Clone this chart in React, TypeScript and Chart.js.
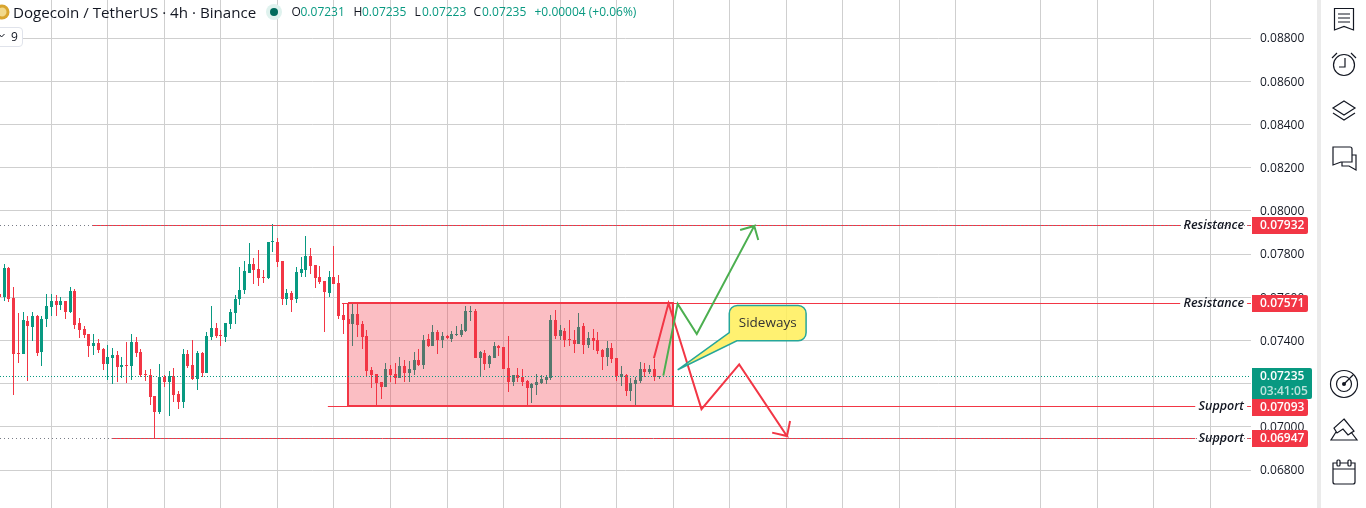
import React, { useEffect, useRef } from "react";
import { Chart, registerables } from "chart.js";

Chart.register(...registerables);

const firstIndex = -1;
const opens = [0.07615,0.07602,0.07735,0.07596,0.07342,0.07337,0.0749,0.07462,0.07513,0.07346,0.07499,0.07555,0.07582,0.07564,0.07582,0.07532,0.07629,0.0748,0.07453,0.0743,0.07374,0.07388,0.0736,0.07291,0.07319,0.07332,0.07277,0.07286,0.07282,0.07393,0.07346,0.07244,0.0724,0.07143,0.07069,0.07231,0.07207,0.07235,0.07152,0.07115,0.07337,0.07286,0.07221,0.07342,0.07249,0.07416,0.07457,0.07425,0.07416,0.07476,0.07527,0.07592,0.07633,0.07712,0.07754,0.07731,0.07694,0.07689,0.07856,0.07856,0.07768,0.07592,0.07619,0.07592,0.07712,0.07726,0.07791,0.07749,0.07694,0.07675,0.07619,0.07694,0.07666,0.07518,0.07499,0.07476,0.07522,0.07476,0.0742,0.07263,0.07244,0.07207,0.07184,0.07268,0.07244,0.07226,0.07282,0.07249,0.07263,0.07309,0.07286,0.07407,0.07374,0.07439,0.07402,0.0742,0.07407,0.07425,0.07425,0.07444,0.07531,0.07536,0.07319,0.07342,0.07291,0.07319,0.07374,0.07369,0.07272,0.07207,0.0724,0.07231,0.07212,0.0718,0.07194,0.07203,0.07217,0.07226,0.07494,0.0742,0.07444,0.07407,0.07402,0.07383,0.07467,0.07379,0.07411,0.07402,0.07356,0.07323,0.07365,0.07319,0.07231,0.0724,0.07166,0.07198,0.07212,0.07268,0.07254,0.07268,0.07231];
const highs = [0.07615,0.07754,0.0774,0.07647,0.07527,0.07532,0.07513,0.07532,0.07518,0.07513,0.07615,0.07615,0.0761,0.07601,0.07582,0.07647,0.07638,0.07504,0.07467,0.0743,0.0743,0.07407,0.07365,0.07379,0.07365,0.07351,0.07323,0.07393,0.0743,0.07416,0.0736,0.07263,0.07268,0.07143,0.07291,0.0724,0.07258,0.07272,0.07166,0.0736,0.07356,0.07402,0.07351,0.07346,0.07439,0.07559,0.07481,0.07448,0.07481,0.07545,0.0761,0.0774,0.07768,0.07851,0.07782,0.07819,0.07726,0.07856,0.07939,0.07874,0.07768,0.07638,0.07629,0.0774,0.07786,0.07883,0.07828,0.07749,0.07744,0.07675,0.07721,0.07837,0.07703,0.07573,0.07573,0.07572,0.07572,0.0749,0.07448,0.07277,0.07244,0.07207,0.07295,0.07286,0.07295,0.07323,0.07309,0.07305,0.07346,0.0736,0.07425,0.0743,0.07471,0.07448,0.07439,0.07425,0.07444,0.07467,0.07476,0.07559,0.07559,0.07545,0.07351,0.07356,0.07332,0.07393,0.07379,0.07369,0.0742,0.0724,0.07272,0.07268,0.07217,0.07203,0.07244,0.0724,0.0724,0.07518,0.07541,0.07471,0.07457,0.07494,0.07448,0.07527,0.07481,0.07439,0.07453,0.07439,0.0736,0.07397,0.07388,0.07319,0.07282,0.07244,0.07226,0.07231,0.073,0.07295,0.07286,0.07314,0.07235];
const lows = [0.07599,0.07584,0.07578,0.07147,0.07295,0.07337,0.07212,0.07397,0.07328,0.07282,0.07462,0.07513,0.07513,0.07541,0.07499,0.07527,0.07453,0.07411,0.07411,0.07323,0.07332,0.07342,0.07263,0.07217,0.07198,0.07207,0.07226,0.07203,0.07217,0.07323,0.07231,0.07212,0.07101,0.06948,0.07059,0.07184,0.0705,0.07115,0.07082,0.07087,0.07272,0.07217,0.0717,0.07231,0.07249,0.07402,0.07411,0.07374,0.07393,0.07453,0.07476,0.07564,0.07615,0.07712,0.07661,0.07652,0.07666,0.07684,0.07809,0.0774,0.07564,0.07564,0.07532,0.07573,0.07694,0.07694,0.07707,0.07643,0.07661,0.07439,0.07601,0.07661,0.07499,0.0743,0.0746,0.07374,0.07416,0.0736,0.07235,0.0718,0.07096,0.07129,0.07184,0.07207,0.07198,0.07226,0.07207,0.07207,0.0724,0.07282,0.07268,0.07369,0.07374,0.07337,0.07365,0.07407,0.07393,0.0742,0.07416,0.07439,0.0749,0.07319,0.07235,0.07263,0.07272,0.07319,0.07328,0.07268,0.07161,0.07189,0.07207,0.07189,0.07096,0.0711,0.07147,0.07198,0.07198,0.07217,0.07407,0.07402,0.07369,0.07374,0.07342,0.07383,0.07337,0.07365,0.07356,0.07337,0.07263,0.07282,0.07295,0.07212,0.07189,0.07143,0.07119,0.07101,0.07203,0.07231,0.07244,0.07212,0.07223];
const closes = [0.076,0.07735,0.07593,0.07337,0.07337,0.07494,0.07467,0.07513,0.0734,0.07499,0.07559,0.07582,0.07564,0.07582,0.07532,0.07629,0.07471,0.07448,0.07425,0.07374,0.07388,0.07356,0.07291,0.07323,0.07332,0.07277,0.07286,0.07282,0.07393,0.07342,0.0724,0.0724,0.07138,0.07069,0.07231,0.07207,0.07235,0.07147,0.07115,0.07337,0.07282,0.07221,0.07342,0.07249,0.0742,0.07457,0.0742,0.0742,0.07481,0.07532,0.07592,0.07633,0.07721,0.07754,0.07726,0.07689,0.07689,0.07856,0.0786,0.07763,0.07592,0.07619,0.07587,0.07717,0.07731,0.07791,0.07744,0.07689,0.0767,0.07624,0.07694,0.07661,0.07513,0.07494,0.07476,0.07522,0.07471,0.07416,0.07258,0.0724,0.07203,0.07184,0.07268,0.0724,0.07226,0.07282,0.07249,0.07268,0.07309,0.07286,0.07402,0.07374,0.07439,0.07402,0.0742,0.07411,0.0743,0.0743,0.07448,0.07536,0.07536,0.07319,0.07346,0.07291,0.07328,0.07374,0.07365,0.07268,0.07207,0.0724,0.07226,0.07207,0.0718,0.07198,0.07207,0.07221,0.07231,0.07494,0.0742,0.07448,0.07402,0.07402,0.07383,0.07462,0.07379,0.07411,0.07397,0.07351,0.07323,0.07365,0.07314,0.07235,0.07244,0.07166,0.07203,0.07217,0.07268,0.07254,0.07268,0.07231,0.07235];

const yTicks = [0.088,0.086,0.084,0.082,0.08,0.078,0.076,0.074,0.072,0.07,0.068];
const xGridIndices = [10,22,34,46,58,70,82,94,106,118,130,142,154,166,178,190,202,220,232,244,256];

const resistanceHigh = 0.07932;
const resistanceLow = 0.07571;
const supportHigh = 0.07093;
const supportLow = 0.06947;
const lastPrice = 0.07235;
const countdown = "03:41:05";

const boxLeft = 73;
const boxRight = 142;

const greenPathX = [139.9,142.95,147,159.2,156.2,159.2,160.05];
const greenPathY = [0.07237,0.07569,0.0743,0.0793,0.07911,0.0793,0.07865];
const redPathX = [137.9,141,148,156,166.15,163,166.15,166.8];
const redPathY = [0.07317,0.07572,0.07082,0.07289,0.06957,0.06973,0.06957,0.07027];

const calloutTipX = 142.95;
const calloutTipY = 0.07264;
const calloutLeftX = 153.9;
const calloutRightX = 170.2;
const calloutTopY = 0.07562;
const calloutBottomY = 0.07398;
const calloutBaseLeftY = 0.07436;
const calloutBaseRightX = 155.5;

const RED = "#f23645";
const GREEN = "#089981";
const LINE_GREEN = "#4caf50";
const GRID = "#cfcfcf";
const TEXT = "#131722";
const UI_FONT = "'Open Sans', sans-serif";

const pts = (xs: number[], ys: (number | null)[]) => xs.map((x, i) => ({ x, y: ys[i] }));
const lineDs = (data: any[], color: string, width: number, extra: any = {}) => ({
  type: "line",
  data,
  borderColor: color,
  borderWidth: width,
  pointRadius: 0,
  tension: 0,
  fill: false,
  order: 1,
  ...extra,
});

const snapMarks = {
  id: "snapMarks",
  afterDatasetsUpdate(chart: any) {
    chart.data.datasets.forEach((ds: any, i: number) => {
      const els = chart.getDatasetMeta(i).data;
      if (ds.type === "bar") {
        els.forEach((el: any) => {
          const half = ds.barThickness / 2;
          el.x = Math.round(el.x - half) + half;
          const top = Math.round(Math.min(el.y, el.base));
          let bottom = Math.round(Math.max(el.y, el.base));
          if (bottom <= top) bottom = top + 1;
          el.y = top;
          el.base = bottom;
        });
      } else if (ds.snapRow) {
        els.forEach((el: any) => { el.y = Math.floor(el.y + 0.25) + 0.5; });
      } else if (ds.snapBox) {
        els.forEach((el: any) => { el.y = Math.floor(el.y + 0.25); el.x = Math.round(el.x); });
      }
    });
  },
};

const overlays = {
  id: "overlays",
  afterDraw(chart: any) {
    const { ctx, scales } = chart;
    const y = scales.y;
    const x = scales.x;

    ctx.save();
    const l = x.getPixelForValue(calloutLeftX);
    const r = x.getPixelForValue(calloutRightX);
    const t = y.getPixelForValue(calloutTopY);
    const b = y.getPixelForValue(calloutBottomY);
    const rad = 8;
    ctx.beginPath();
    ctx.moveTo(l + rad, t);
    ctx.lineTo(r - rad, t);
    ctx.arcTo(r, t, r, t + rad, rad);
    ctx.lineTo(r, b - rad);
    ctx.arcTo(r, b, r - rad, b, rad);
    ctx.lineTo(x.getPixelForValue(calloutBaseRightX), b);
    ctx.lineTo(x.getPixelForValue(calloutTipX), y.getPixelForValue(calloutTipY));
    ctx.lineTo(l, y.getPixelForValue(calloutBaseLeftY));
    ctx.lineTo(l, t + rad);
    ctx.arcTo(l, t, l + rad, t, rad);
    ctx.closePath();
    ctx.fillStyle = "rgba(255,238,88,0.85)";
    ctx.fill();
    ctx.strokeStyle = "#26a69a";
    ctx.lineWidth = 1.5;
    ctx.stroke();
    ctx.fillStyle = "#333333";
    ctx.font = `13.5px ${UI_FONT}`;
    ctx.textAlign = "center";
    ctx.textBaseline = "middle";
    ctx.fillText("Sideways", (l + r) / 2, (t + b) / 2 + 0.5);

    ctx.fillStyle = TEXT;
    ctx.font = `italic 600 12.5px ${UI_FONT}`;
    ctx.textAlign = "right";
    const labelRight = 1244;
    [["Resistance", resistanceHigh], ["Resistance", resistanceLow], ["Support", supportHigh], ["Support", supportLow]].forEach(([s, v]: any) => {
      ctx.fillText(s, labelRight, y.getPixelForValue(v));
    });

    const tagLeft = 1252;
    const drawTag = (v: number, w: number, h: number, color: string) => {
      const cy = Math.round(y.getPixelForValue(v));
      ctx.fillStyle = color;
      ctx.beginPath();
      ctx.roundRect(tagLeft, cy - 8, w, h, [0, 2, 2, 0]);
      ctx.fill();
      return cy;
    };
    ctx.textAlign = "left";
    ctx.font = `600 12px ${UI_FONT}`;
    [resistanceHigh, resistanceLow, supportLow].forEach((v) => {
      const cy = drawTag(v, 56, 17, RED);
      ctx.fillStyle = "#ffffff";
      ctx.fillText(v.toFixed(5), 1260, cy + 0.5);
    });
    const lastY = drawTag(lastPrice, 60, 31, GREEN);
    ctx.fillStyle = "#ffffff";
    ctx.fillText(lastPrice.toFixed(5), 1260, lastY + 0.5);
    ctx.fillStyle = "rgba(255,255,255,0.72)";
    ctx.fillText(countdown, 1260, lastY + 15.5);
    const supY = drawTag(supportHigh, 56, 17, RED);
    ctx.fillStyle = "#ffffff";
    ctx.fillText(supportHigh.toFixed(5), 1260, supY + 0.5);
    ctx.restore();
  },
};

const spanStyle = (left: number, color: string, extra: any = {}): any => ({
  position: "absolute",
  left,
  top: 3,
  lineHeight: "18px",
  whiteSpace: "nowrap",
  color,
  ...extra,
});

export default function App() {
  const ref = useRef<HTMLCanvasElement>(null);

  useEffect(() => {
    document.body.style.margin = "0";
    document.body.style.background = "#ffffff";
    const ctx = ref.current!.getContext("2d")!;
    const bodyColor = closes.map((c, i) => (c >= opens[i] ? GREEN : RED));
    const wicks = highs.map((h, i) => ({ x: firstIndex + i, y: [lows[i], h] }));
    const bodies = opens.map((o, i) => ({ x: firstIndex + i, y: [o, closes[i]] }));
    const chartMaxIdx = 264.63;
    const chartMinIdx = -0.887;
    const xEnd = chartMaxIdx;
    const row = { snapRow: true };

    const chart = new Chart(ctx, {
      type: "bar",
      data: {
        datasets: [
          { type: "bar", data: wicks, backgroundColor: bodyColor, barThickness: 1, grouped: false, inflateAmount: 0, borderWidth: 0, order: 11 },
          { type: "bar", data: bodies, backgroundColor: bodyColor, barThickness: 3, grouped: false, inflateAmount: 0, borderWidth: 0, order: 10 },
          lineDs(pts([boxLeft, boxRight, boxRight, boxLeft, boxLeft], [resistanceLow, resistanceLow, supportHigh, supportHigh, resistanceLow]), RED, 2, { fill: "shape", backgroundColor: "rgba(242,54,69,0.32)", order: 9, snapBox: true }),
          lineDs(pts([chartMinIdx, xEnd], [lastPrice, lastPrice]), GREEN, 1, { borderDash: [1, 2], order: 8, ...row }),
          lineDs(pts([18.8, 249.6, 249.7, 263.8, xEnd], [resistanceHigh, resistanceHigh, null, resistanceHigh, resistanceHigh]), RED, 1, { order: 7, ...row }),
          lineDs(pts([71.7, 249.6, 249.7, 263.8, xEnd], [resistanceLow, resistanceLow, null, resistanceLow, resistanceLow]), RED, 1, { order: 7, ...row }),
          lineDs(pts([68.7, 252.8, 252.9, 263.8, xEnd], [supportHigh, supportHigh, null, supportHigh, supportHigh]), RED, 1, { order: 7, ...row }),
          lineDs(pts([22.8, 252.8, 252.9, 263.8, xEnd], [supportLow, supportLow, null, supportLow, supportLow]), RED, 1, { order: 7, ...row }),
          lineDs(pts([chartMinIdx, xEnd], [resistanceHigh, resistanceHigh]), "#787b86", 1, { borderDash: [1, 3], order: 6, ...row }),
          lineDs(pts([chartMinIdx, xEnd], [supportLow, supportLow]), "#787b86", 1, { borderDash: [1, 3], order: 6, ...row }),
          lineDs(pts(greenPathX, greenPathY), LINE_GREEN, 2, { order: 5 }),
          lineDs(pts(redPathX, redPathY), RED, 2, { order: 5 }),
        ] as any,
      },
      options: {
        responsive: false,
        animation: false,
        events: [],
        layout: { padding: 0 },
        plugins: { legend: { display: false }, tooltip: { enabled: false }, title: { display: false } },
        scales: {
          x: {
            type: "linear",
            min: chartMinIdx,
            max: chartMaxIdx,
            offset: false,
            position: "bottom",
            border: { display: false },
            grid: { color: GRID, drawTicks: false, lineWidth: 1, offset: false },
            ticks: { display: false, autoSkip: false },
            afterBuildTicks: (s: any) => { s.ticks = xGridIndices.map((value) => ({ value })); },
            afterFit: (s: any) => { s.height = 0; s.paddingLeft = 0; s.paddingRight = 0; s.paddingTop = 0; s.paddingBottom = 0; },
          },
          y: {
            type: "linear",
            position: "right",
            min: 0.066241,
            max: 0.0897593,
            border: { display: false },
            grid: { color: GRID, drawTicks: false, lineWidth: 1 },
            ticks: {
              color: TEXT,
              padding: 9,
              labelOffset: 1,
              autoSkip: false,
              font: { family: "'Open Sans', sans-serif", size: 12 },
              callback: (v: any) => Number(v).toFixed(5),
            },
            afterBuildTicks: (s: any) => { s.ticks = yTicks.map((value) => ({ value })); },
            afterFit: (s: any) => { s.width = 115; s.paddingTop = 0; s.paddingBottom = 0; s.paddingLeft = 0; s.paddingRight = 0; },
          },
        },
      } as any,
      plugins: [snapMarks, overlays],
    });
    return () => chart.destroy();
  }, []);

  const wrap: any = { position: "absolute", left: 0, top: 0, width: 1366, height: 508, overflow: "hidden", background: "#fff" };
  const ic = { fill: "none", stroke: "#131722", strokeWidth: 1.2 };
  return (
    <div style={wrap}>
      <canvas ref={ref} width={1366} height={508} style={{ position: "absolute", left: 0, top: 0, width: 1366, height: 508 }} />
      <div style={{ position: "absolute", left: 0, top: 0, width: 1366, height: 508, pointerEvents: "none", fontFamily: UI_FONT }}>
        <span style={spanStyle(13, TEXT, { fontSize: 15.15 })}>Dogecoin / TetherUS · 4h · Binance</span>
        <span style={spanStyle(291.5, TEXT, { fontSize: 12 })}>O</span>
        <span style={spanStyle(300.5, GREEN, { fontSize: 12 })}>0.07231</span>
        <span style={spanStyle(353.5, TEXT, { fontSize: 12 })}>H</span>
        <span style={spanStyle(362, GREEN, { fontSize: 12 })}>0.07235</span>
        <span style={spanStyle(414.5, TEXT, { fontSize: 12 })}>L</span>
        <span style={spanStyle(422, GREEN, { fontSize: 12 })}>0.07223</span>
        <span style={spanStyle(473.5, TEXT, { fontSize: 12 })}>C</span>
        <span style={spanStyle(482, GREEN, { fontSize: 12 })}>0.07235</span>
        <span style={spanStyle(534.5, GREEN, { fontSize: 12 })}>+0.00004 (+0.06%)</span>
        <div style={{ position: "absolute", left: -6, top: 27, width: 27, height: 18, border: "1px solid #e0e3eb", borderRadius: 4, background: "#fff" }} />
        <span style={{ position: "absolute", left: 11, top: 28, fontSize: 12, lineHeight: "18px", color: TEXT }}>9</span>
        <svg width={1366} height={508} style={{ position: "absolute", left: 0, top: 0 }}>
          <path d="M-1 34 L1.5 37 L4.5 34" fill="none" stroke={TEXT} strokeWidth={1} />
          <circle cx={2} cy={12} r={7.5} fill="#d9a52e" />
          <circle cx={2} cy={12} r={4.5} fill="#f2d98b" />
          <circle cx={274} cy={12} r={8} fill="#dff2ee" />
          <circle cx={274} cy={12} r={4} fill="#006b5c" />
          <rect x={1317} y={0} width={4} height={508} fill="#ebebeb" />
          <path d="M1334.5 8.5 H1353.5 V30 L1344 26.5 L1334.5 30 Z M1338 14 H1350 M1338 18 H1350 M1338 22 H1350" {...ic} />
          <circle cx={1344} cy={65} r={10.5} {...ic} />
          <path d="M1345 58 V67 H1339 M1332 58 L1337 53 M1356 58 L1351 53" {...ic} />
          <path d="M1344 101 L1355 108 L1344 115 L1333 108 Z M1333 113 L1344 120 L1355 113" {...ic} />
          <path d="M1333 147 H1350 Q1352 147 1352 149 V162 H1341 L1333 165 Z M1352 155 H1356 V170 L1349 166 H1342 V162" {...ic} />
          <circle cx={1344} cy={384} r={13.5} {...ic} />
          <circle cx={1344} cy={384} r={7.5} {...ic} />
          <circle cx={1344} cy={384} r={2} fill="#131722" />
          <path d="M1344 384 L1353 375" {...ic} />
          <path d="M1344 419 L1354 431 L1348 435 L1343 429 L1337 433 L1334 428 Z M1336 432 L1331 440 H1357 L1351 432" {...ic} />
          <path d="M1337 463 H1333 V482 Q1333 484 1335 484 H1353 Q1355 484 1355 482 V463 H1351 M1340 463 H1348 M1333 469 H1355" {...ic} />
          <rect x={1337} y={460} width={3} height={6} rx={1} {...ic} />
          <rect x={1348} y={460} width={3} height={6} rx={1} {...ic} />
        </svg>
      </div>
    </div>
  );
}
